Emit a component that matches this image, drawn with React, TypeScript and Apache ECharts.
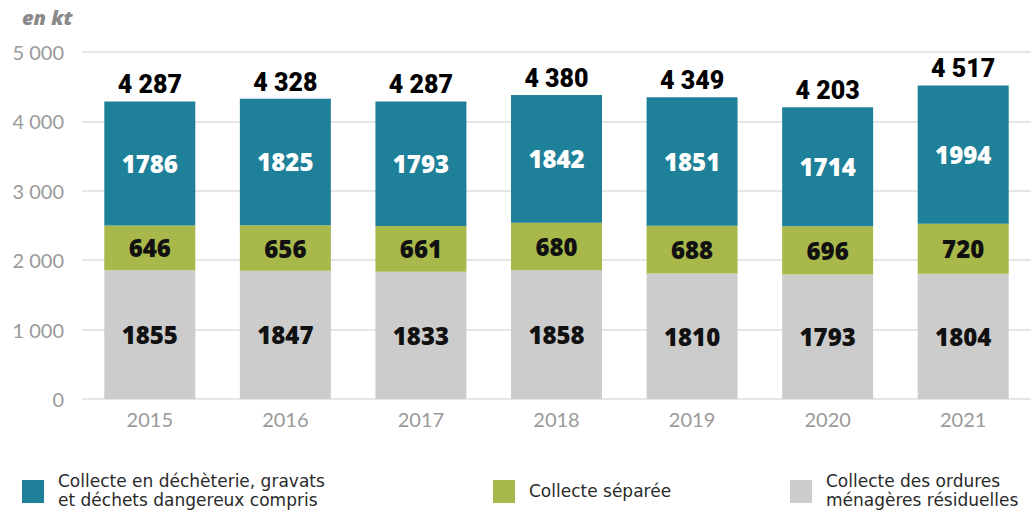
import React, { useEffect, useRef } from "react";
import * as echarts from "echarts";

const years = ["2015", "2016", "2017", "2018", "2019", "2020", "2021"];
const ordures = [1855, 1847, 1833, 1858, 1810, 1793, 1804];
const separee = [646, 656, 661, 680, 688, 696, 720];
const decheterie = [1786, 1825, 1793, 1842, 1851, 1714, 1994];
const totals = [4287, 4328, 4287, 4380, 4349, 4203, 4517];
const legendLines = [
  ["Collecte en déchèterie, gravats", "et déchets dangereux compris"],
  ["Collecte séparée"],
  ["Collecte des ordures", "ménagères résiduelles"],
];

const TEAL = "#1F8199";
const GREEN = "#A9B84A";
const GREY = "#CCCCCC";
const fmtSpace = (v: number) => String(v).replace(/\B(?=(\d{3})+(?!\d))/g, " ");

export default function App() {
  const ref = useRef<HTMLDivElement>(null);
  useEffect(() => {
    document.body.style.margin = "0";
    const chart = echarts.init(ref.current!, null, { renderer: "svg" });
    const innerLabel = (color: string) => ({
      show: true,
      position: "inside" as const,
      color,
      fontFamily: "Open Sans",
      fontWeight: 800,
      fontSize: 24,
    });
    const legendColors = [TEAL, GREEN, GREY];
    const legendX = [22, 493, 790];
    const legendGraphics: any[] = [];
    legendLines.forEach((lines, i) => {
      legendGraphics.push({
        type: "rect",
        shape: { x: legendX[i], y: 480, width: 22, height: 23 },
        style: { fill: legendColors[i] },
      });
      lines.forEach((line, j) => {
        const y = lines.length === 1 ? 491 : 481 + j * 19;
        legendGraphics.push({
          type: "text",
          x: legendX[i] + 36,
          y,
          style: {
            text: line,
            fill: "#2A2A2A",
            font: "17px 'DejaVu Sans'",
            lineHeight: 18,
            verticalAlign: "middle",
          },
        });
      });
    });
    chart.setOption({
      animation: false,
      grid: { left: 82, width: 957, top: 52, height: 347 },
      xAxis: {
        type: "category",
        data: years,
        axisLine: { show: false },
        axisTick: { show: false },
        axisLabel: { color: "#9A9A9A", fontFamily: "Lato", fontSize: 20, margin: 10 },
      },
      yAxis: {
        type: "value",
        min: 0,
        max: 5000,
        interval: 1000,
        axisLabel: {
          color: "#9A9A9A",
          fontFamily: "Lato",
          fontSize: 20,
          margin: 18,
          formatter: (v: number) => fmtSpace(v),
        },
        splitLine: { lineStyle: { color: "#E6E6E6", width: 2 } },
      },
      series: [
        {
          type: "bar",
          stack: "a",
          data: ordures,
          barWidth: 91,
          itemStyle: { color: GREY },
          label: innerLabel("#111"),
        },
        {
          type: "bar",
          stack: "a",
          data: separee,
          itemStyle: { color: GREEN },
          label: innerLabel("#111"),
        },
        {
          type: "bar",
          stack: "a",
          data: decheterie,
          itemStyle: { color: TEAL },
          label: innerLabel("#FFFFFF"),
        },
        {
          type: "bar",
          stack: "a",
          data: totals.map(() => 0),
          itemStyle: { color: "transparent" },
          label: {
            show: true,
            position: "top",
            distance: 4,
            color: "#000",
            fontFamily: "Roboto",
            fontWeight: 900,
            fontSize: 25,
            formatter: (p: any) => fmtSpace(totals[p.dataIndex]),
          },
        },
      ],
      graphic: [
        {
          type: "text",
          left: 22,
          top: 7,
          style: {
            text: "en kt",
            fill: "#8A8A8A",
            font: "italic 800 20px 'Open Sans'",
          },
        },
        ...legendGraphics,
      ],
    });
    return () => chart.dispose();
  }, []);
  return <div ref={ref} style={{ width: 1031, height: 512 }} />;
}
